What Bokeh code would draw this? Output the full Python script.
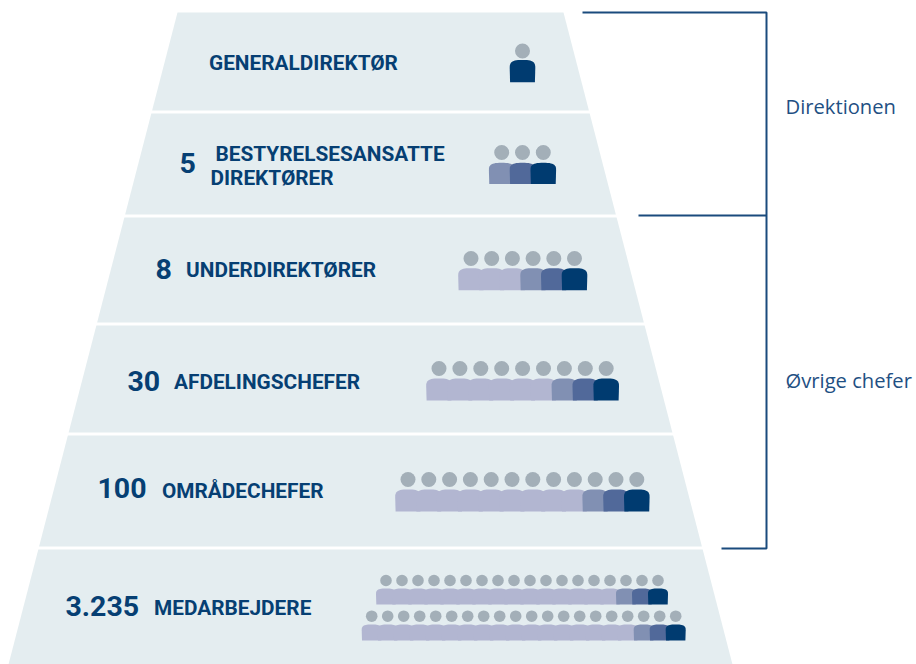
from bokeh.plotting import figure
from bokeh.models import Range1d
from bokeh.core.properties import value
from bokeh.embed import file_html
from bokeh.resources import INLINE
import numpy as np

W, H = 916, 664

# --- content
numbers = ["", "5", "8", "30", "100", "3.235"]
titles = ["GENERALDIREKTØR", "BESTYRELSESANSATTE", "UNDERDIREKTØRER", "AFDELINGSCHEFER", "OMRÅDECHEFER", "MEDARBEJDERE"]
extra_title = "DIREKTØRER"
group_labels = ["Direktionen", "Øvrige chefer"]
people_per_row = [1, 3, 6, 9, 12, 18, 20]

# --- layout (pixels of the page)
band_top = [12, 113, 217, 325, 435, 549]
band_bottom = [110, 214, 322, 432, 546, 664]
num_x = [0, 179, 155, 127, 97, 65]
num_y = [0, 162, 268, 380, 487.5, 605.5]
title_x = [208.5, 215, 185.5, 173.5, 161.5, 153.5]
title_y = [62, 153, 269.5, 381.5, 490.5, 607.5]
head_first = [522, 501.2, 470.5, 438.5, 407.5, 385.5, 371.2]
head_step = [0, 20.8, 20.7, 20.9, 20.8, 16, 16]
head_y = [50.5, 152, 258, 368, 479, 580, 615.7]
head_r = [7.5, 7.5, 7.5, 7.5, 7.5, 5.8, 5.8]
body_top = [59.5, 162.3, 267.7, 378, 489, 588, 624]
body_bottom = [81.7, 183.5, 289.7, 400, 511, 604, 640]
body_halfw = [12.8, 12.8, 12.8, 12.8, 12.8, 10, 10]

BAND = "#e4edf0"
HEAD = "#a3afb8"
PALE, LIGHT, MID, DARK = "#b2b6d1", "#8190b3", "#51699a", "#003b70"
INK = "#063f73"
BR = "#1a4b7d"

p = figure(width=W, height=H, x_range=Range1d(0, W), y_range=Range1d(H, 0),
           output_backend="svg", toolbar_location=None, min_border=0,
           outline_line_color=None, background_fill_color="white")
p.axis.visible = False
p.grid.visible = False


def left(y):
    return 177 - (y - 12) * 169 / 652


def right(y):
    return 563 + (y - 12) * 169 / 652


p.patches([[left(t), right(t), right(b), left(b)] for t, b in zip(band_top, band_bottom)],
          [[t, t, b, b] for t, b in zip(band_top, band_bottom)],
          fill_color=BAND, line_color=None)


def body(cx, top, bot, hw):
    ry = (bot - top) * 0.36
    a = np.linspace(np.pi, 2 * np.pi, 24)
    n = 3.0
    xs = np.sign(np.cos(a)) * np.abs(np.cos(a)) ** (2 / n) * hw
    ys = -np.abs(np.sin(a)) ** (2 / n) * ry
    return (list(cx + xs) + [cx + hw * 0.97, cx - hw * 0.97],
            list(top + ry + ys) + [bot, bot])


for i, n in enumerate(people_per_row):
    cx = [head_first[i] + k * head_step[i] for k in range(n)]
    colors = ([PALE] * n + [LIGHT, MID, DARK])[3:] if n >= 3 else [DARK]
    shapes = [body(c, body_top[i], body_bottom[i], body_halfw[i]) for c in cx]
    p.patches([s[0] for s in shapes], [s[1] for s in shapes], fill_color=colors, line_color=None)
    p.circle(cx, [head_y[i]] * n, radius=head_r[i], fill_color=HEAD, line_color=None)

num_idx = [i for i, n in enumerate(numbers) if n]
p.text([num_x[i] for i in num_idx], [num_y[i] for i in num_idx], text=[numbers[i] for i in num_idx],
       text_font=value("Roboto"), text_font_style="bold", text_font_size="28.5px",
       text_color=INK, text_baseline="middle", text_align="left")
p.text(title_x, title_y, text=titles, text_font=value("Roboto"), text_font_style="bold",
       text_font_size="20.8px", text_color=INK, text_baseline="middle", text_align="left")
p.text([210], [177], text=[extra_title], text_font=value("Roboto"), text_font_style="bold",
       text_font_size="20.8px", text_color=INK, text_baseline="middle", text_align="left")

p.multi_line([[582, 766, 766, 721], [638, 766]], [[12, 12, 548, 548], [215, 215]],
             line_color=BR, line_width=2)
p.text([785, 785], [105.5, 379], text=group_labels, text_font=value("Open Sans"),
       text_font_size="20.2px", text_color="#1f5083", text_baseline="middle", text_align="left")

open("out.html", "w").write(file_html(p, INLINE))
